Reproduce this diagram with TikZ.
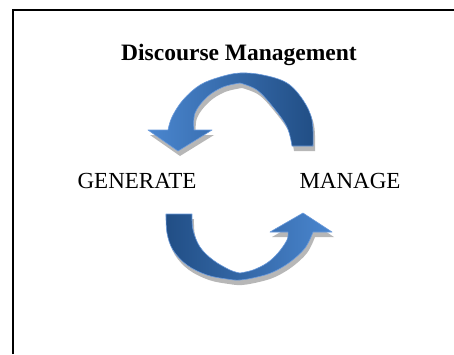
\documentclass[tikz,border=0pt]{standalone}
\usepackage{fontspec}
\setmainfont{Liberation Serif}
\definecolor{bluelight}{HTML}{4A86CF}
\definecolor{bluedark}{HTML}{214E85}
\definecolor{blueedge}{HTML}{6A9ADB}
\tikzset{
  frameline/.style={line width=2pt, black},
  lbl/.style={anchor=base, inner sep=0pt, font=\fontsize{23}{27}\selectfont},
  ttl/.style={anchor=base, inner sep=0pt, font=\fontsize{23.5}{28}\selectfont\bfseries},
  shadowfill/.style={fill=black!40, fill opacity=0.7},
  topband/.style={left color=bluelight, right color=bluedark, draw=blueedge, line width=0.6pt, line join=round},
  botband/.style={left color=bluedark, right color=bluelight, draw=blueedge, line width=0.6pt, line join=round},
}
\begin{document}
\begin{tikzpicture}[x=1pt, y=-1pt]
\useasboundingbox (0,0) rectangle (454,354);
\fill[white] (0,0) rectangle (454,354);
% frame
\draw[frameline] (13,354) -- (13,9.5) -- (454,9.5);
% title and labels
\node[ttl] (title) at (239,60) {Discourse Management};
\node[lbl] (gen) at (137,188) {GENERATE};
\node[lbl] (man) at (350,188) {MANAGE};
% top arrow (MANAGE -> GENERATE)
\def\toparrow{
  plot[smooth, tension=0.6] coordinates {(313,146) (312,120) (303,100) (287,83) (263,75) (240,73) (220,77) (200,85) (183,100) (172,117) (168,130)}
  -- (148,130) -- (178,151) -- (212,130) -- (194,130)
  -- plot[smooth, tension=0.6] coordinates {(194,130) (195,113) (207,97) (223,87) (240,83)}
  -- plot[smooth, tension=0.6] coordinates {(240,83) (257,90) (273,107) (287,127) (292,146)}
  -- cycle}
\def\botarrow{
  plot[smooth, tension=0.6] coordinates {(166,214) (167,233) (173,250) (187,265) (207,275) (227,279) (240,280) (257,277) (273,272) (290,262) (305,248) (313,232)}
  -- (332,232) -- (303,213) -- (270,232) -- (288,232)
  -- plot[smooth, tension=0.6] coordinates {(288,232) (287,240) (278,253) (267,263) (253,270) (240,273)}
  -- plot[smooth, tension=0.6] coordinates {(240,273) (230,270) (213,260) (200,247) (193,230) (192,214)}
  -- cycle}
\begin{scope}[shift={(2,5)}]
  \fill[shadowfill] \toparrow;
  \fill[shadowfill] \botarrow;
\end{scope}
\path[topband] \toparrow;
\path[botband] \botarrow;
\end{tikzpicture}
\end{document}
